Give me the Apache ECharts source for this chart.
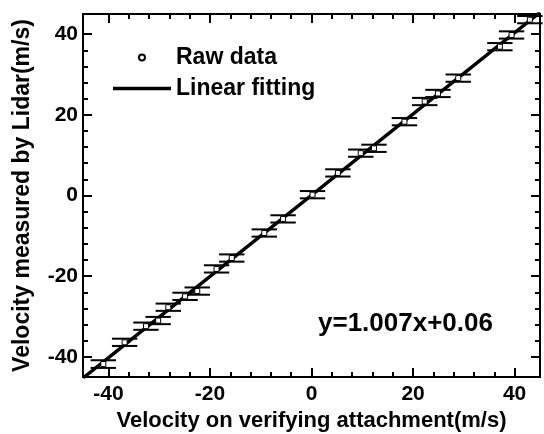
<!DOCTYPE html>
<html>
<head>
<meta charset="utf-8">
<script src="https://cdn.jsdelivr.net/npm/echarts@6/dist/echarts.min.js"></script>
<style>
  html, body { margin: 0; padding: 0; background: #fff; }
  #chart { width: 544px; height: 434px; }
</style>
</head>
<body>
<div id="chart"></div>
<script>
// raw points
const rawX = [-41.0, -36.8, -32.6, -30.2, -28.2, -24.9, -22.5, -18.7, -15.7, -9.3, -5.6, 0.2,
  5.2, 9.7, 12.3, 18.3, 22.3, 24.9, 28.9, 37.1, 39.4, 43.0]
const rawY = [-41.8, -36.4, -32.4, -31.0, -27.7, -25.0, -23.7, -18.2, -15.5, -9.3, -5.8, 0.2,
  5.6, 10.5, 11.7, 18.3, 23.3, 25.3, 29.1, 36.9, 39.8, 43.6]
const rawErr = [0.95, 0.9, 0.9, 0.9, 0.9, 0.9, 0.9, 0.9, 0.9, 0.9, 0.9, 0.9,
  0.9, 0.9, 0.9, 0.9, 0.9, 0.9, 0.9, 0.9, 0.9, 0.9]
// linear fitting y=1.007x+0.06, ends of the drawn line
const fitX = [-45, 45]
const fitY = [-45.26, 45.38]
const majorTicks = [-40, -20, 0, 20, 40]
const minorTicks = [-36, -32, -28, -24, -16, -12, -8, -4, 4, 8, 12, 16, 24, 28, 32, 36]

const font = "'Liberation Sans', Arial, sans-serif"
const capHalf = 2.5

const points = rawX.map((x, i) => [x, rawY[i], rawErr[i]])
const fitLine = fitX.map((x, i) => [x, fitY[i]])

function axisPair(dim, pos, withLabel, name) {
  const major = {
    type: 'value',
    position: pos,
    min: -45,
    max: 45,
    axisLine: { show: true, onZero: false, lineStyle: { color: '#000', width: 2 } },
    axisTick: { show: true, inside: true, length: 9, lineStyle: { color: '#000', width: 2 }, customValues: majorTicks },
    axisLabel: withLabel ? {
      show: true,
      customValues: majorTicks,
      color: '#000',
      fontFamily: font,
      fontWeight: 'bold',
      fontSize: 21,
      margin: dim === 'x' ? 7 : 5
    } : { show: false },
    splitLine: { show: false }
  }
  if (name) {
    major.name = name
    major.nameLocation = 'middle'
    major.nameGap = dim === 'x' ? 29 : 49
    major.nameTextStyle = { color: '#000', fontFamily: font, fontWeight: 'bold', fontSize: dim === 'x' ? 22 : 23 }
  }
  const minor = {
    type: 'value',
    position: pos,
    min: -45,
    max: 45,
    axisLine: { show: false, onZero: false },
    axisTick: { show: true, inside: true, length: 5, lineStyle: { color: '#000', width: 2 }, customValues: minorTicks },
    axisLabel: { show: false },
    splitLine: { show: false }
  }
  return [major, minor]
}

const chart = echarts.init(document.getElementById('chart'))

const option = {
  animation: false,
  backgroundColor: '#fff',
  grid: { left: 83, right: 4, top: 14, bottom: 57, containLabel: false, outerBoundsMode: 'none' },
  xAxis: [
    ...axisPair('x', 'bottom', true, 'Velocity on verifying attachment(m/s)'),
    ...axisPair('x', 'top', false)
  ],
  yAxis: [
    ...axisPair('y', 'left', true, 'Velocity measured by Lidar(m/s)'),
    ...axisPair('y', 'right', false)
  ],
  legend: {
    left: 108,
    top: 41,
    orient: 'vertical',
    itemWidth: 58,
    itemHeight: 6,
    itemGap: 8,
    textStyle: { color: '#000', fontFamily: font, fontWeight: 'bold', fontSize: 23 },
    data: [
      { name: 'Raw data', icon: 'circle' },
      { name: 'Linear fitting', icon: 'path://M0,0M0,6M0,1.3H58V4.7H0Z' }
    ]
  },
  series: [
    {
      name: 'Raw data',
      type: 'custom',
      renderItem(params, api) {
        const x = api.value(0)
        const y = api.value(1)
        const e = api.value(2)
        const a = api.coord([x - capHalf, y + e])
        const b = api.coord([x + capHalf, y + e])
        const c = api.coord([x - capHalf, y - e])
        const d = api.coord([x + capHalf, y - e])
        const top = api.coord([x, y + e])
        const bot = api.coord([x, y - e])
        const style = { stroke: '#000', lineWidth: 2 }
        return {
          type: 'group',
          children: [
            { type: 'line', shape: { x1: a[0], y1: a[1], x2: b[0], y2: b[1] }, style },
            { type: 'line', shape: { x1: c[0], y1: c[1], x2: d[0], y2: d[1] }, style },
            { type: 'line', shape: { x1: top[0], y1: top[1], x2: bot[0], y2: bot[1] }, style: { stroke: '#000', lineWidth: 1 } }
          ]
        }
      },
      encode: { x: 0, y: 1 },
      data: points,
      itemStyle: { color: '#fff', borderColor: '#000', borderWidth: 1 },
      z: 2
    },
    {
      name: 'Raw data',
      type: 'scatter',
      symbol: 'rect',
      symbolSize: 5,
      itemStyle: { color: '#fff', borderColor: '#000', borderWidth: 1, opacity: 1 },
      data: points.map(p => [p[0], p[1]]),
      z: 4
    },
    {
      name: 'Linear fitting',
      type: 'line',
      data: fitLine,
      showSymbol: false,
      symbol: 'none',
      clip: true,
      lineStyle: { color: '#000', width: 3.5 },
      itemStyle: { color: '#000' },
      z: 3
    }
  ],
  graphic: [
    {
      type: 'text',
      left: 318,
      top: 311,
      style: {
        text: 'y=1.007x+0.06',
        fill: '#000',
        font: 'bold 26px ' + font
      }
    }
  ]
}

chart.setOption(option)
</script>
</body>
</html>
